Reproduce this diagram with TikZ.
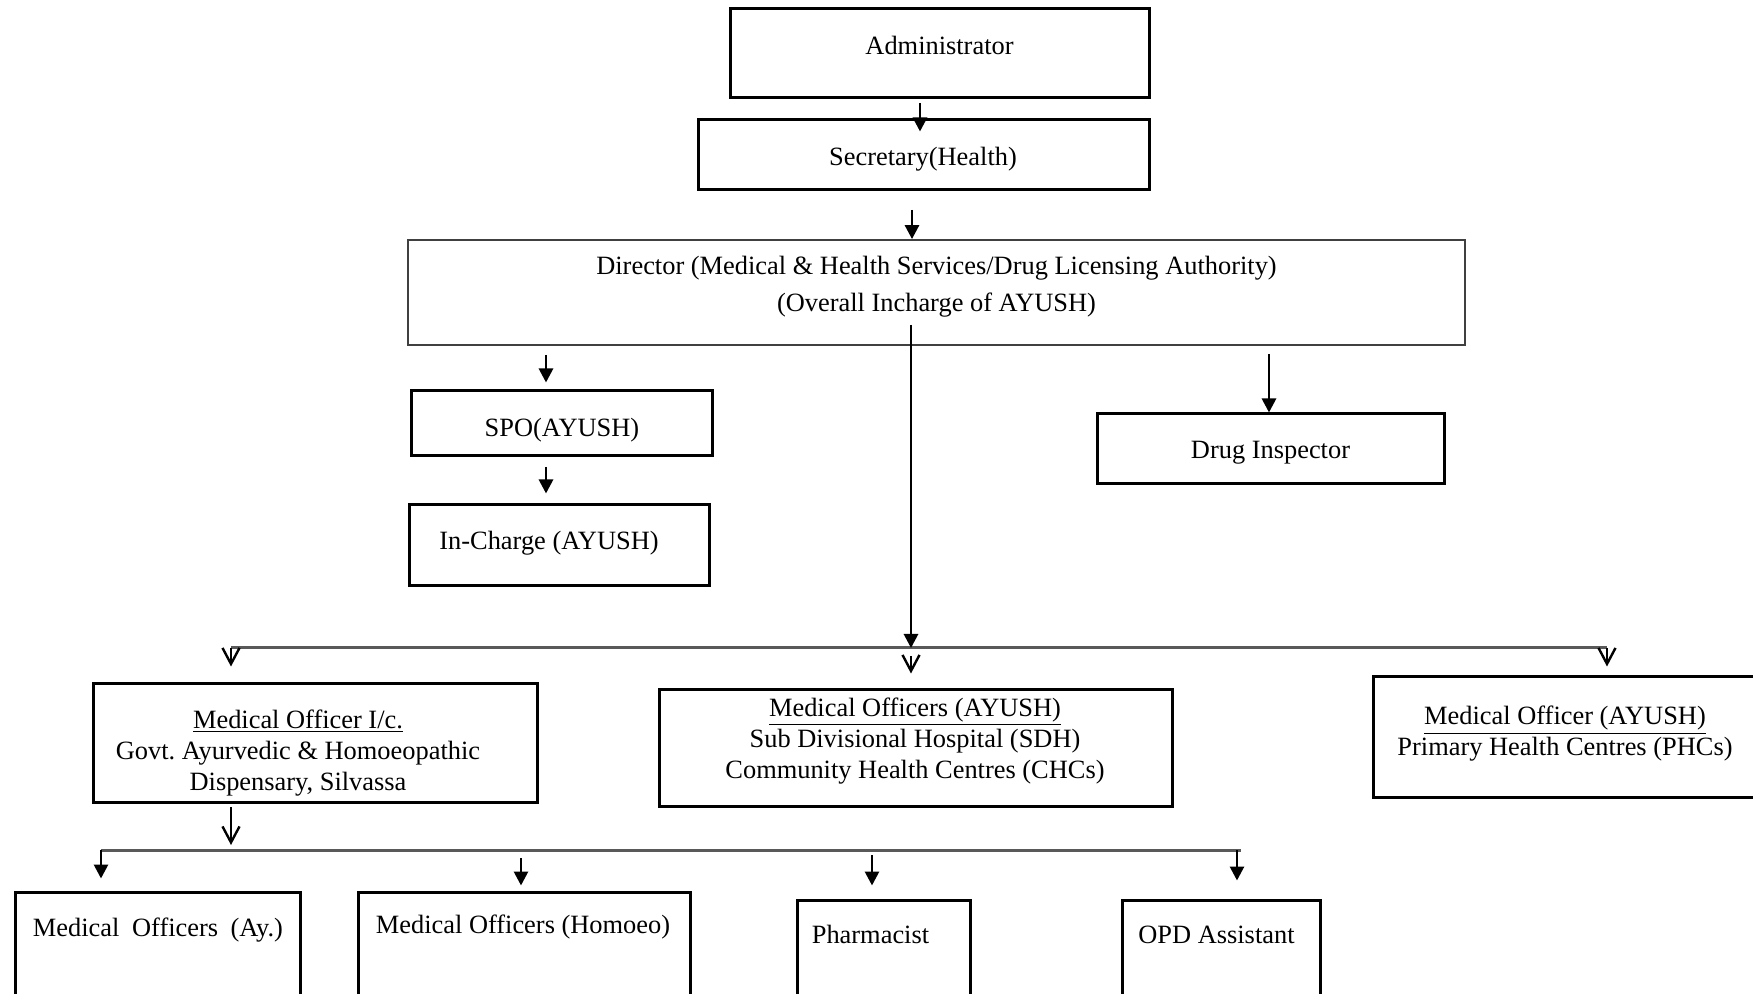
\documentclass[tikz,border=0pt]{standalone}
\usepackage{fontspec}
\setmainfont{Liberation Serif}
\usetikzlibrary{arrows.meta,fit}

\begin{document}
\begin{tikzpicture}[x=0.5pt,y=-0.5pt,
    orgbox/.style={draw,line width=1.5pt,inner sep=0pt},
    lbl/.style={font=\fontsize{13.2}{15.5}\selectfont,inner sep=0pt,align=center},
    arr/.style={line width=1.4pt,-{Triangle[width=7pt,length=7pt]}},
    varr/.style={line width=1.2pt,-{Straight Barb[width=8.5pt,length=8pt]}},
    bus/.style={line width=1.5pt,black!65}]
    \useasboundingbox (0,0) rectangle (1753,994);
    \clip (0,0) rectangle (1753,994);
    % boxes
    \node[orgbox,fit={(730,9) (1149,98)}] (admin) {};
    \node[orgbox,fit={(698,120) (1149,190)}] (sec) {};
    \node[orgbox,draw=black!75,line width=0.9pt,fit={(408,240) (1465,345)}] (dir) {};
    \node[orgbox,fit={(411,391) (712,456)}] (spo) {};
    \node[orgbox,fit={(409,505) (709,586)}] (inch) {};
    \node[orgbox,fit={(1097,414) (1444,484)}] (drug) {};
    \node[orgbox,fit={(93,684) (537,802)}] (moic) {};
    \node[orgbox,fit={(659,690) (1172,806)}] (moay) {};
    \node[orgbox,fit={(1373,677) (1770,797)}] (mophc) {};
    % texts
    \node[lbl,anchor=base] (admin-t) at (939.5,55) {Administrator};
    \node[lbl,anchor=base] (sec-t) at (923,166) {Secretary(Health)};
    \node[lbl] (dir-t) at (936.5,287) {Director (Medical \& Health Services/Drug Licensing Authority)\\[3pt](Overall Incharge of AYUSH)};
    \node[lbl,anchor=base] (spo-t) at (562,437) {SPO(AYUSH)};
    \node[lbl,anchor=base] (inch-t) at (549,550) {In-Charge (AYUSH)};
    \node[lbl,anchor=base] (drug-t) at (1270.5,459) {Drug Inspector};
    \node[lbl] (moic-t) at (298,753) {\underline{Medical Officer I/c.}\\Govt.\ Ayurvedic \& Homoeopathic\\Dispensary, Silvassa};
    \node[lbl] (moay-t) at (915,741) {\underline{Medical Officers (AYUSH)}\\Sub Divisional Hospital (SDH)\\Community Health Centres (CHCs)};
    \node[lbl] (mophc-t) at (1565,734) {\underline{Medical Officer (AYUSH)}\\Primary Health Centres (PHCs)};
    % top chain
    \coordinate (c1) at (920,103);
    \draw[arr,shorten >=-6.5pt] (c1) -- (c1 |- sec.north);
    \coordinate (c2) at (912,210);
    \draw[arr] (c2) -- (c2 |- dir.north);
    \coordinate (c3) at (546,355);
    \draw[arr,shorten >=3.5pt] (c3) -- (c3 |- spo.north);
    \coordinate (c4) at (546,467);
    \draw[arr,shorten >=5pt] (c4) -- (c4 |- inch.north);
    \coordinate (c5) at (1269,354);
    \draw[arr] (c5) -- (c5 |- drug.north);
    % upper bus
    \coordinate (busL) at (231,648);
    \coordinate (busR) at (1607,648);
    \draw[bus] (busL) -- (busR);
    \coordinate (c6) at (911,325);
    \draw[arr] (c6) -- (c6 |- busL);
    \draw[varr,shorten >=8pt] (busL) -- (busL |- moic.north);
    \coordinate (c7) at (911,656);
    \draw[varr,shorten >=7.5pt] (c7) -- (c7 |- moay.north);
    \draw[varr,shorten >=4.5pt] (busR) -- (busR |- mophc.north);
    % lower bus
    \coordinate (lowL) at (101,850);
    \coordinate (lowR) at (1241,850);
    \draw[bus] (lowL) -- (lowR);
    \coordinate (c8) at (231,807);
    \draw[varr,shorten >=2.5pt] (c8) -- (c8 |- lowL);
    \foreach \nm/\xa/\xb/\ya/\tx/\ty/\ax/\ay/\sh/\txt in {
      may/15/300/892/158/936/101/850/6pt/{Medical\hspace{3pt} Officers\hspace{3pt} (Ay.)},
      mhom/358/690/892/523/933/521/858/2.5pt/{Medical Officers (Homoeo)},
      phar/797/970/900/870.5/943/872/855/6.5pt/{Pharmacist},
      opd/1122/1320/900/1216.5/943/1237/850/9pt/{OPD Assistant}} {
      \node[orgbox,fit={(\xa,\ya) (\xb,1010)}] (\nm) {};
      \node[lbl,anchor=base] (\nm-t) at (\tx,\ty) {\txt};
      \coordinate (\nm-a) at (\ax,\ay);
      \draw[arr,shorten >=\sh] (\nm-a) -- (\nm-a |- \nm.north);
    }
\end{tikzpicture}
\end{document}
